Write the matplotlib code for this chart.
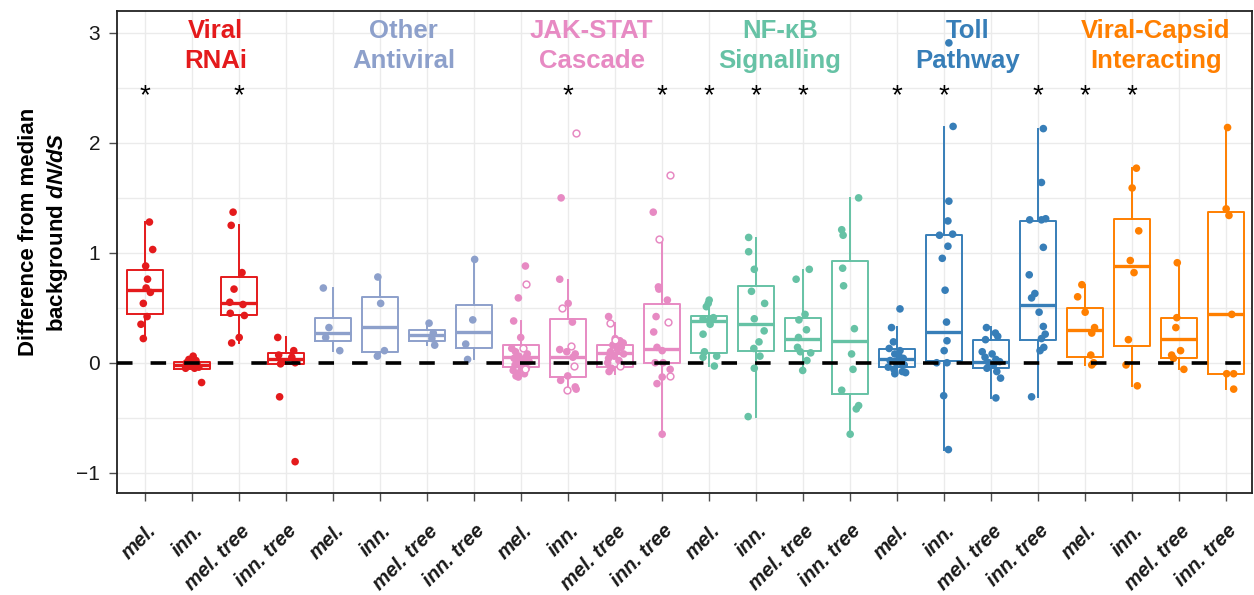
"""Box plots of dN/dS differences across immune gene categories."""
import matplotlib
matplotlib.use("Agg")
import matplotlib.pyplot as plt
from matplotlib.transforms import ScaledTranslation

plt.rcParams['font.family'] = 'Liberation Sans'
plt.rcParams['mathtext.fontset'] = 'custom'
plt.rcParams['mathtext.rm'] = 'Liberation Sans:bold'
plt.rcParams['mathtext.bf'] = 'Liberation Sans:bold'
plt.rcParams['mathtext.bfit'] = 'Liberation Sans:bold:italic'

# categories, one per group of four boxes
groups = ['Viral\nRNAi', 'Other\nAntiviral', 'JAK-STAT\nCascade',
          'NF-\u03baB\nSignalling', 'Toll\nPathway', 'Viral-Capsid\nInteracting']
group_colors = ['#e41a1c', '#8da0cb', '#e78ac3', '#66c2a5', '#377eb8', '#ff7f00']
tick_names = ['mel.', 'inn.', 'mel. tree', 'inn. tree'] * 6

# box statistics per box (24 boxes)
q1 = [0.445, -0.055, 0.43, -0.01, 0.198, 0.097, 0.20, 0.133,
      -0.04, -0.131, -0.04, 0.0, 0.085, 0.103, 0.103, -0.28,
      -0.039, 0.012, -0.046, 0.209, 0.052, 0.149, 0.046, -0.10]
median = [0.664, -0.024, 0.54, 0.03, 0.273, 0.326, 0.25, 0.279,
          0.05, 0.052, 0.09, 0.125, 0.377, 0.353, 0.216, 0.195,
          0.03, 0.279, 0.01, 0.522, 0.295, 0.878, 0.213, 0.441]
q3 = [0.845, 0.003, 0.78, 0.088, 0.408, 0.601, 0.30, 0.528,
      0.158, 0.401, 0.164, 0.538, 0.429, 0.696, 0.407, 0.93,
      0.121, 1.16, 0.209, 1.29, 0.495, 1.304, 0.41, 1.374]
whisker_lo = [0.22, -0.06, 0.18, -0.01, 0.11, 0.06, 0.16, 0.03,
              -0.13, -0.25, -0.10, -0.647, -0.03, -0.49, -0.067, -0.65,
              -0.10, -0.79, -0.322, -0.313, -0.02, -0.213, -0.061, -0.237]
whisker_hi = [1.28, 0.06, 1.25, 0.23, 0.68, 0.78, 0.36, 0.94,
              0.38, 0.757, 0.36, 1.131, 0.57, 1.134, 0.845, 1.50,
              0.325, 2.146, 0.325, 2.128, 0.71, 1.769, 0.912, 2.143]

# per-gene values (filled) and their horizontal jitter
filled_y = [
    [1.28, 1.03, 0.88, 0.76, 0.68, 0.64, 0.54, 0.42, 0.35, 0.22],
    [0.06, 0.03, 0.02, 0.0, -0.01, -0.03, -0.04, -0.05, -0.05, -0.18],
    [1.37, 1.25, 0.82, 0.67, 0.55, 0.53, 0.45, 0.43, 0.23, 0.18],
    [0.23, 0.11, 0.07, 0.05, 0.01, 0.0, -0.01, -0.31, -0.90],
    [0.68, 0.32, 0.23, 0.11],
    [0.78, 0.54, 0.11, 0.06],
    [0.36, 0.27, 0.22, 0.16],
    [0.94, 0.39, 0.17, 0.03],
    [0.88, 0.59, 0.38, 0.23, 0.13, 0.10, 0.08, 0.06, 0.05, 0.04, 0.02,
     0.01, 0.0, -0.01, -0.02, -0.04, -0.05, -0.07, -0.09, -0.10, -0.12, -0.13],
    [1.50, 0.76, 0.54, 0.37, 0.12, 0.10, 0.08, 0.05, -0.12, -0.16, -0.22, -0.24],
    [0.42, 0.22, 0.20, 0.18, 0.16, 0.14, 0.12, 0.10, 0.08, 0.06, 0.04,
     0.02, 0.0, -0.02, -0.05, -0.08],
    [1.37, 0.69, 0.67, 0.57, 0.42, 0.28, 0.14, 0.11, 0.0, 0.0, -0.06,
     -0.13, -0.19, -0.65],
    [0.57, 0.54, 0.51, 0.41, 0.40, 0.39, 0.35, 0.26, 0.10, 0.05, 0.06, -0.03],
    [1.14, 1.01, 0.85, 0.65, 0.54, 0.40, 0.29, 0.19, 0.13, 0.06, -0.05, -0.49],
    [0.85, 0.76, 0.44, 0.39, 0.30, 0.23, 0.14, 0.10, 0.09, 0.02, -0.07],
    [1.50, 1.21, 1.16, 0.86, 0.70, 0.31, 0.08, -0.06, -0.25, -0.39, -0.42, -0.65],
    [0.49, 0.32, 0.19, 0.13, 0.11, 0.08, 0.06, 0.04, 0.02, 0.0, 0.0,
     -0.02, -0.04, -0.06, -0.08, -0.09, -0.10],
    [2.91, 2.15, 1.47, 1.29, 1.17, 1.16, 1.06, 0.95, 0.66, 0.37, 0.20,
     0.11, 0.0, 0.0, -0.30, -0.79],
    [0.32, 0.27, 0.24, 0.21, 0.10, 0.08, 0.05, 0.03, 0.01, 0.0, -0.02,
     -0.05, -0.08, -0.14, -0.32],
    [2.13, 1.64, 1.30, 1.30, 1.31, 1.05, 0.80, 0.63, 0.59, 0.46, 0.33,
     0.26, 0.22, 0.11, 0.14, -0.31],
    [0.71, 0.60, 0.46, 0.32, 0.27, 0.07, 0.0, -0.02],
    [1.77, 1.59, 1.20, 0.93, 0.82, 0.21, -0.02, -0.21],
    [0.91, 0.41, 0.32, 0.11, 0.07, 0.04, -0.06],
    [2.14, 1.40, 1.34, 0.44, -0.10, -0.10, -0.24],
]
filled_dx = [
    [0.09, 0.16, 0.01, 0.05, 0.02, 0.11, -0.04, 0.04, -0.09, -0.04],
    [0.02, -0.07, 0.08, -0.12, 0.10, -0.03, 0.14, -0.14, 0.05, 0.20],
    [-0.13, -0.17, 0.06, -0.11, -0.20, 0.08, -0.19, 0.11, 0.0, -0.16],
    [-0.18, 0.16, -0.16, 0.12, -0.09, 0.19, -0.12, -0.14, 0.19],
    [-0.21, -0.09, -0.16, 0.14],
    [-0.05, 0.01, 0.09, -0.06],
    [0.04, 0.13, 0.10, 0.16],
    [0.01, -0.03, -0.18, -0.14],
    [0.09, -0.06, -0.16, -0.01, -0.20, -0.12, 0.13, -0.05, 0.10, -0.15, 0.03,
     0.17, -0.08, 0.06, -0.13, 0.0, 0.11, -0.17, -0.04, 0.07, -0.11, -0.06],
    [-0.15, -0.18, 0.0, 0.09, -0.18, -0.03, 0.15, 0.10, -0.01, -0.16, 0.15, 0.17],
    [-0.14, 0.0, 0.10, 0.17, -0.05, 0.13, 0.05, -0.10, 0.18, -0.02, -0.14,
     0.08, -0.16, 0.12, -0.08, -0.13],
    [-0.19, -0.08, -0.07, 0.11, -0.13, -0.18, -0.11, 0.0, -0.15, 0.02, 0.17,
     0.0, -0.11, 0.0],
    [0.0, -0.02, -0.06, 0.09, -0.13, 0.01, 0.02, -0.13, -0.10, -0.13, 0.16, 0.11],
    [-0.16, -0.16, -0.04, -0.10, 0.18, -0.04, 0.17, 0.06, -0.05, 0.08, -0.04, -0.17],
    [0.13, -0.15, 0.04, -0.09, 0.07, -0.10, -0.12, -0.06, 0.16, 0.08, -0.01],
    [0.18, -0.18, -0.15, -0.16, -0.14, 0.09, 0.03, 0.06, -0.18, 0.18, 0.13, 0.0],
    [0.06, -0.12, -0.08, -0.17, 0.06, -0.05, 0.04, 0.13, -0.15, -0.02, 0.09,
     0.15, -0.19, -0.07, 0.11, 0.18, -0.05],
    [0.10, 0.19, 0.10, 0.08, 0.18, -0.10, 0.08, -0.04, 0.02, 0.05, 0.06,
     0.0, -0.16, 0.06, -0.01, 0.09],
    [-0.10, 0.09, 0.14, -0.12, -0.19, 0.02, -0.13, 0.10, 0.18, -0.05, 0.05,
     -0.09, 0.12, 0.20, 0.10],
    [0.11, 0.07, -0.18, 0.07, 0.16, 0.11, -0.19, -0.07, -0.14, 0.02, 0.11,
     0.15, 0.07, 0.04, 0.12, -0.14],
    [-0.07, -0.16, 0.0, 0.20, 0.14, 0.12, 0.18, 0.14],
    [0.09, 0.0, 0.14, -0.04, 0.04, -0.08, -0.13, 0.11],
    [-0.04, -0.05, -0.07, 0.03, -0.16, -0.12, 0.10],
    [0.03, 0.0, 0.06, 0.12, 0.01, 0.16, 0.16],
]

# genes drawn as open circles (JAK-STAT boxes only)
open_y = {8: [0.72, 0.13, -0.06],
          9: [2.09, 0.50, 0.15, -0.03, -0.25],
          10: [0.36, 0.21, -0.03],
          11: [1.71, 1.13, 0.37, -0.12]}
open_dx = {8: [0.11, 0.03, 0.09],
           9: [0.16, -0.13, 0.07, 0.12, -0.02],
           10: [-0.12, -0.01, 0.11],
           11: [0.17, -0.07, 0.12, 0.16]}

# boxes marked significant
star_boxes = [1, 3, 10, 12, 13, 14, 15, 17, 18, 20, 21, 22]
star_height = 2.5

fig = plt.figure(figsize=(12.54, 5.95), dpi=100)
ax = fig.add_axes([117 / 1254, 1 - 493 / 595, 1135 / 1254, 482 / 595])

positions = list(range(1, 25))
box_colors = [c for c in group_colors for _ in range(4)]

for i, pos in enumerate(positions):
    col = box_colors[i]
    stats = [{'q1': q1[i], 'med': median[i], 'q3': q3[i],
              'whislo': whisker_lo[i], 'whishi': whisker_hi[i], 'fliers': []}]
    ax.bxp(stats, positions=[pos], widths=0.76, showfliers=False,
           showcaps=False, patch_artist=False, manage_ticks=False,
           boxprops=dict(color=col, linewidth=1.4),
           whiskerprops=dict(color=col, linewidth=1.4),
           medianprops=dict(color=col, linewidth=2.4, solid_capstyle='butt'))
    xs = [pos + d for d in filled_dx[i]]
    ax.scatter(xs, filled_y[i], s=30, color=col, edgecolors='none', zorder=3)
    if i in open_y:
        xs = [pos + d for d in open_dx[i]]
        ax.scatter(xs, open_y[i], s=24, facecolors='white', edgecolors=col,
                   linewidths=1.1, zorder=3)

ax.axhline(0, color='black', lw=2.6, ls=(0, (4.3, 5.0)), zorder=4)

for b in star_boxes:
    ax.annotate('*', xy=(b, star_height), xytext=(0, -11),
                textcoords='offset points', ha='center', va='baseline',
                fontsize=20, color='black')

# group titles above each block of four
tr = ax.get_xaxis_transform()
for g, (title, col) in enumerate(zip(groups, group_colors)):
    cx = 4 * g + 2.5
    top, bottom = title.split('\n')
    ax.text(cx, 0.945, top, transform=tr, ha='center', va='baseline',
            fontsize=18.5, fontweight='bold', color=col)
    ax.text(cx, 0.881, bottom, transform=tr, ha='center', va='baseline',
            fontsize=18.5, fontweight='bold', color=col)

ax.set_xlim(0.4, 24.55)
ax.set_ylim(-1.185, 3.2)
ax.set_xticks(positions)
ax.set_xticklabels(tick_names, rotation=45, ha='right', rotation_mode='anchor',
                   fontweight='bold', fontstyle='italic', color='#1a1a1a')

ax.set_yticks([-1, 0, 1, 2, 3])
ax.set_yticklabels(['\u22121', '0', '1', '2', '3'])
ax.set_yticks([-0.5, 0.5, 1.5, 2.5], minor=True)
ax.tick_params(axis='both', which='major', length=6, width=1,
               color='#4d4d4d', labelsize=15, labelcolor='#1a1a1a')
ax.tick_params(axis='x', which='major', labelsize=14.5)
ax.tick_params(axis='y', which='major', pad=6)
ax.tick_params(axis='y', which='minor', length=0)

# drop the slanted labels a little further below each tick
offset = ScaledTranslation(1 / 100, -15 / 100, fig.dpi_scale_trans)
for lbl in ax.get_xticklabels():
    lbl.set_transform(lbl.get_transform() + offset)

ax.grid(True, which='both', axis='y', color='#ebebeb', lw=1)
ax.grid(True, which='major', axis='x', color='#ebebeb', lw=1)
ax.set_axisbelow(True)
for sp in ax.spines.values():
    sp.set_linewidth(1.3)
    sp.set_color('#222222')

ax.set_ylabel('Difference from median\nbackground $\\mathbfit{dN/dS}$',
              fontsize=16, fontweight='bold', linespacing=1.35)
ax.yaxis.set_label_coords(-0.041, 0.541)

fig.savefig('out.png', dpi=100)
